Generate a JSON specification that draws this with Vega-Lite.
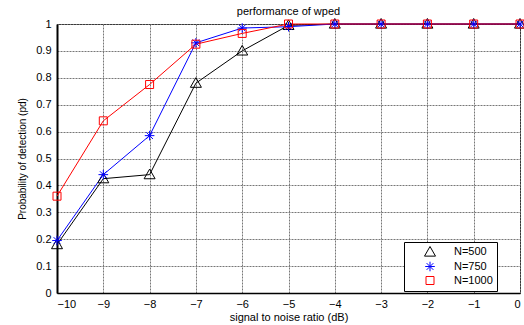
{
  "$schema": "https://vega.github.io/schema/vega-lite/v6.json",
  "width": 463,
  "height": 269,
  "autosize": {"type": "none"},
  "padding": {"left": 57, "top": 24, "right": 4, "bottom": 32},
  "background": "white",
  "title": {"text": "performance of wped", "font": "Liberation Sans", "fontSize": 11, "fontWeight": "normal", "color": "#000", "offset": 0},
  "config": {
    "view": {"stroke": "black", "strokeWidth": 1},
    "font": "Liberation Sans"
  },
  "data": {
    "values": [
      {"snr": -10, "pd": 0.18, "series": "N=500"},
      {"snr": -9, "pd": 0.425, "series": "N=500"},
      {"snr": -8, "pd": 0.44, "series": "N=500"},
      {"snr": -7, "pd": 0.78, "series": "N=500"},
      {"snr": -6, "pd": 0.9, "series": "N=500"},
      {"snr": -5, "pd": 0.995, "series": "N=500"},
      {"snr": -4, "pd": 1.0, "series": "N=500"},
      {"snr": -3, "pd": 1.0, "series": "N=500"},
      {"snr": -2, "pd": 1.0, "series": "N=500"},
      {"snr": -1, "pd": 1.0, "series": "N=500"},
      {"snr": 0, "pd": 1.0, "series": "N=500"},
      {"snr": -10, "pd": 0.195, "series": "N=750"},
      {"snr": -9, "pd": 0.44, "series": "N=750"},
      {"snr": -8, "pd": 0.585, "series": "N=750"},
      {"snr": -7, "pd": 0.93, "series": "N=750"},
      {"snr": -6, "pd": 0.985, "series": "N=750"},
      {"snr": -5, "pd": 0.99, "series": "N=750"},
      {"snr": -4, "pd": 1.0, "series": "N=750"},
      {"snr": -3, "pd": 1.0, "series": "N=750"},
      {"snr": -2, "pd": 1.0, "series": "N=750"},
      {"snr": -1, "pd": 1.0, "series": "N=750"},
      {"snr": 0, "pd": 1.0, "series": "N=750"},
      {"snr": -10, "pd": 0.36, "series": "N=1000"},
      {"snr": -9, "pd": 0.64, "series": "N=1000"},
      {"snr": -8, "pd": 0.775, "series": "N=1000"},
      {"snr": -7, "pd": 0.925, "series": "N=1000"},
      {"snr": -6, "pd": 0.965, "series": "N=1000"},
      {"snr": -5, "pd": 1.0, "series": "N=1000"},
      {"snr": -4, "pd": 1.0, "series": "N=1000"},
      {"snr": -3, "pd": 1.0, "series": "N=1000"},
      {"snr": -2, "pd": 1.0, "series": "N=1000"},
      {"snr": -1, "pd": 1.0, "series": "N=1000"},
      {"snr": 0, "pd": 1.0, "series": "N=1000"}
    ]
  },
  "encoding": {
    "x": {
      "field": "snr", "type": "quantitative",
      "scale": {"domain": [-10, 0], "nice": false, "zero": false},
      "axis": {
        "title": "signal to noise ratio (dB)", "values": [-10,-9,-8,-7,-6,-5,-4,-3,-2,-1,0],
        "format": "d", "grid": true, "gridColor": "#777", "gridDash": [2, 1], "gridWidth": 1,
        "domainColor": "black", "domainWidth": 1.5, "ticks": false,
        "labelFont": "Liberation Sans", "labelFontSize": 11, "labelColor": "#000", "labelPadding": 5,
        "titleFont": "Liberation Sans", "titleFontSize": 11, "titleFontWeight": "normal", "titleColor": "#000", "titlePadding": 2
      }
    },
    "y": {
      "field": "pd", "type": "quantitative",
      "scale": {"domain": [0, 1], "nice": false},
      "axis": {
        "title": "Probability of detection (pd)", "values": [0,0.1,0.2,0.3,0.4,0.5,0.6,0.7,0.8,0.9,1],
        "format": "~g",
        "grid": true, "gridColor": "#777", "gridDash": [2, 1], "gridWidth": 1,
        "domainColor": "black", "domainWidth": 2, "ticks": false,
        "labelFont": "Liberation Sans", "labelFontSize": 11, "labelColor": "#000", "labelPadding": 6,
        "titleFont": "Liberation Sans", "titleFontSize": 10, "titleFontWeight": "normal", "titleColor": "#000", "titlePadding": 8
      }
    },
    "color": {
      "field": "series", "type": "nominal",
      "scale": {"domain": ["N=500", "N=750", "N=1000"], "range": ["#000000", "#0000ff", "#ff0000"]},
      "legend": {
        "title": null, "orient": "none", "legendX": 347, "legendY": 218,
        "fillColor": "white", "strokeColor": "black",
        "padding": 4, "rowPadding": 0, "symbolSize": 196, "symbolOffset": 16, "labelOffset": 18,
        "labelFont": "Liberation Sans", "labelFontSize": 11, "labelColor": "#000",
        "symbolStrokeWidth": 1
      }
    }
  },
  "layer": [
    {"mark": {"type": "line", "strokeWidth": 1}, "encoding": {"detail": {"field": "series"}}},
    {
      "mark": {"type": "point", "filled": false, "strokeWidth": 1, "opacity": 1},
      "encoding": {
        "shape": {
          "field": "series", "type": "nominal",
          "scale": {"domain": ["N=500", "N=750", "N=1000"], "range": ["M0,-1L1,0.75L-1,0.75Z", "M-1,0H1M0,-1V1M-0.7,-0.7L0.7,0.7M-0.7,0.7L0.7,-0.7", "M-1,-1H1V1H-1Z"]},
          "legend": null
        },
        "size": {
          "field": "series", "type": "nominal",
          "scale": {"domain": ["N=500", "N=750", "N=1000"], "range": [121, 64, 81]},
          "legend": null
        }
      }
    }
  ]
}
